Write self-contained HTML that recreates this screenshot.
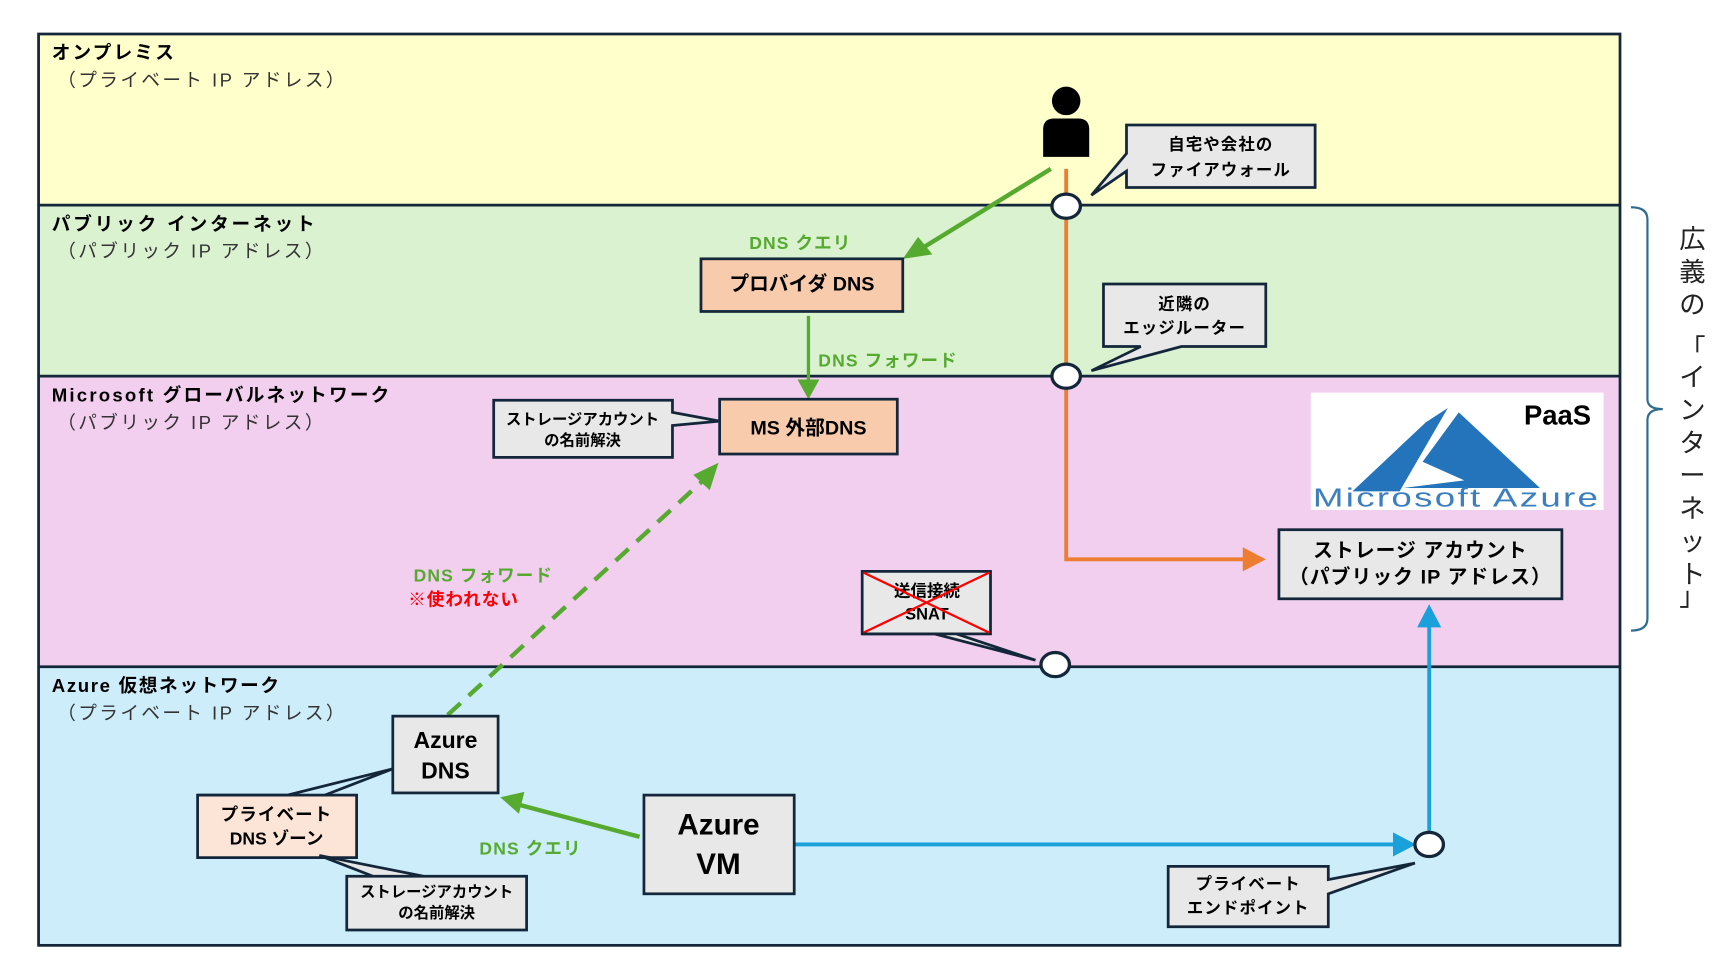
<!DOCTYPE html>
<html><head><meta charset="utf-8"><style>
html,body{margin:0;padding:0;background:#fff;}
svg{display:block;}
text{font-family:"Liberation Sans","Noto Sans CJK JP",sans-serif;}
</style></head><body>
<svg width="1720" height="964" viewBox="0 0 1568 879" xmlns="http://www.w3.org/2000/svg">
<!-- bands -->
<rect x="35" y="31" width="1442" height="156" fill="#FFFFCC"/>
<rect x="35" y="187" width="1442" height="156" fill="#DAF2D0"/>
<rect x="35" y="343" width="1442" height="265" fill="#F2CEEF"/>
<rect x="35" y="608" width="1442" height="254" fill="#CDEDFA"/>
<g stroke="#13263a" stroke-width="2.5" fill="none">
<rect x="35" y="31" width="1442" height="831"/>
<line x1="35" y1="187" x2="1477" y2="187"/>
<line x1="35" y1="343" x2="1477" y2="343"/>
<line x1="35" y1="608" x2="1477" y2="608"/>
</g>
<!-- band labels -->
<g font-size="17" fill="#000">
<text x="47" y="54" font-weight="bold" letter-spacing="2">オンプレミス</text>
<text x="52" y="79" fill="#333" letter-spacing="2.2">（プライベート IP アドレス）</text>
<text x="47" y="210" font-weight="bold" letter-spacing="2.6">パブリック インターネット</text>
<text x="52" y="235" fill="#333" letter-spacing="2.2">（パブリック IP アドレス）</text>
<text x="47" y="366" font-weight="bold" letter-spacing="2">Microsoft グローバルネットワーク</text>
<text x="52" y="391" fill="#333" letter-spacing="2.2">（パブリック IP アドレス）</text>
<text x="47" y="631" font-weight="bold" letter-spacing="1.5">Azure 仮想ネットワーク</text>
<text x="52" y="656" fill="#333" letter-spacing="2.2">（プライベート IP アドレス）</text>
</g>
<!-- brace -->
<path d="M1487,189 Q1502,189 1502,200 L1502,364 Q1502,373 1516,373 Q1502,373 1502,383 L1502,564 Q1502,575 1487,575" stroke="#2f6d8f" stroke-width="2" fill="none"/>
<g font-size="24" fill="#222" text-anchor="middle">
<text x="1543" y="226">広</text><text x="1543" y="256">義</text><text x="1543" y="286">の</text>
<text x="1543" y="326">「</text><text x="1543" y="352">イ</text><text x="1543" y="382">ン</text><text x="1543" y="412">タ</text><text x="1543" y="442">ー</text><text x="1543" y="472">ネ</text><text x="1543" y="502">ッ</text><text x="1543" y="532">ト</text><text x="1543" y="552">」</text>
</g>
<!-- person -->
<circle cx="972" cy="92" r="13" fill="#000"/>
<path d="M951,143 V118 Q951,108 961,108 H983 Q993,108 993,118 V143 Z" fill="#000"/>
<!-- orange line -->
<polyline points="972,154 972,510 1135,510" stroke="#ED7D31" stroke-width="3.5" fill="none"/>
<polygon points="1133,499 1154,510 1133,521" fill="#ED7D31"/>
<!-- green arrows -->
<line x1="958" y1="154" x2="838" y2="228" stroke="#56AA30" stroke-width="4"/>
<polygon points="823,236 837,216 850,232" fill="#56AA30"/>
<line x1="737" y1="288" x2="737" y2="348" stroke="#56AA30" stroke-width="3"/>
<polygon points="727,346 747,346 737,364" fill="#56AA30"/>
<line x1="408" y1="652" x2="641" y2="438" stroke="#56AA30" stroke-width="4" stroke-dasharray="16,10"/>
<polygon points="655,422 647,447 632,433" fill="#56AA30"/>
<line x1="583" y1="763" x2="470" y2="733" stroke="#56AA30" stroke-width="4"/>
<polygon points="456,727 478,722 473,742" fill="#56AA30"/>
<!-- blue lines -->
<line x1="724" y1="770" x2="1272" y2="770" stroke="#1AA0DA" stroke-width="3.5"/>
<polygon points="1270,759 1291,770 1270,781" fill="#1AA0DA"/>
<line x1="1303" y1="760" x2="1303" y2="570" stroke="#1AA0DA" stroke-width="3.5"/>
<polygon points="1292,572 1303,551 1314,572" fill="#1AA0DA"/>
<!-- labels green -->
<g font-size="16" font-weight="bold" fill="#56AA30" letter-spacing="1">
<text x="683" y="227">DNS クエリ</text>
<text x="746" y="334">DNS フォワード</text>
<text x="377" y="530">DNS フォワード</text>
<text x="437" y="779">DNS クエリ</text>
</g>
<text x="372" y="552" font-size="16" font-weight="bold" fill="#FF0000" letter-spacing="1">※使われない</text>
<!-- boxes -->
<g stroke="#13263a" stroke-width="2.5">
<rect x="639" y="236" width="184" height="48" fill="#F8CBAD"/>
<rect x="656" y="364" width="162" height="50" fill="#F8CBAD"/>
<rect x="1166" y="483" width="258" height="63" fill="#E8E8E8"/>
<rect x="358" y="653" width="96" height="70" fill="#E8E8E8"/>
<rect x="180" y="725" width="145" height="57" fill="#FCE4D6"/>
<rect x="587" y="725" width="137" height="90" fill="#E8E8E8"/>
<rect x="786" y="521" width="117" height="57" fill="#E8E8E8"/>
</g>
<g font-weight="bold" fill="#000" text-anchor="middle">
<text x="731" y="265" font-size="18">プロバイダ DNS</text>
<text x="737" y="396" font-size="18">MS 外部DNS</text>
<text x="1295" y="508" font-size="18" letter-spacing="1">ストレージ アカウント</text>
<text x="1295" y="532" font-size="18" letter-spacing="1">（パブリック IP アドレス）</text>
<text x="406" y="682" font-size="21">Azure</text>
<text x="406" y="710" font-size="21">DNS</text>
<text x="252" y="748" font-size="16" letter-spacing="1">プライベート</text>
<text x="252" y="770" font-size="16">DNS ゾーン</text>
<text x="655" y="761" font-size="27">Azure</text>
<text x="655" y="797" font-size="27">VM</text>
<text x="845" y="544" font-size="15">送信接続</text>
<text x="845" y="565" font-size="15">SNAT</text>
</g>
<line x1="787" y1="522" x2="902" y2="577" stroke="#FF0000" stroke-width="2"/>
<line x1="902" y1="522" x2="787" y2="577" stroke="#FF0000" stroke-width="2"/>
<!-- callouts -->
<g stroke="#13263a" stroke-width="2.5" fill="#E8E8E8">
<path d="M1027,114 H1199 V171 H1027 V156 L995,178 L1027,140 Z"/>
<path d="M1006,259 H1154 V316 H1077 L995,338 L1040,316 H1006 Z"/>
<path d="M450,365 H613 V376 L656,384 L613,388 V417 H450 Z"/>
<path d="M316,799 H386 L291,780 L340,799 H480 V848 H316 Z"/>
<path d="M1065,790 H1211 V802 L1290,787 L1211,815 V845 H1065 Z"/>
<path d="M786,578 H852 L944,602 L872,578 Z"/>
<path d="M180,725 H262 L358,701 L296,725" fill="none"/>
</g>
<g font-weight="bold" font-size="15" fill="#000" text-anchor="middle" letter-spacing="1">
<text x="1113" y="137">自宅や会社の</text>
<text x="1113" y="160">ファイアウォール</text>
<text x="1080" y="282">近隣の</text>
<text x="1080" y="304">エッジルーター</text>
<text x="531" y="387" font-size="14" letter-spacing="0">ストレージアカウント</text>
<text x="531" y="406" font-size="14" letter-spacing="0">の名前解決</text>
<text x="398" y="818" font-size="14" letter-spacing="0">ストレージアカウント</text>
<text x="398" y="837" font-size="14" letter-spacing="0">の名前解決</text>
<text x="1138" y="811">プライベート</text>
<text x="1138" y="833">エンドポイント</text>
</g>
<!-- circles -->
<g fill="#fff" stroke="#13263a" stroke-width="3">
<ellipse cx="972" cy="188" rx="13" ry="11"/>
<ellipse cx="972" cy="343" rx="13" ry="11"/>
<ellipse cx="962" cy="606" rx="13" ry="11"/>
<ellipse cx="1303" cy="770" rx="13" ry="11"/>
</g>
<!-- Azure logo -->
<rect x="1195" y="358" width="267" height="107" fill="#fff"/>
<polygon points="1233,448 1276,448 1320,372 1300,385" fill="#2374BA"/>
<polygon points="1330,376 1297,421 1335,438 1279,445 1404,445" fill="#2374BA"/>
<text x="1328" y="462" font-size="24" fill="#3D7FBE" text-anchor="middle" letter-spacing="1.5" font-family="Liberation Sans,sans-serif" textLength="262" lengthAdjust="spacingAndGlyphs">Microsoft Azure</text>
<text x="1420" y="387" font-size="25" font-weight="bold" fill="#000" text-anchor="middle">PaaS</text>
</svg>
</body></html>
